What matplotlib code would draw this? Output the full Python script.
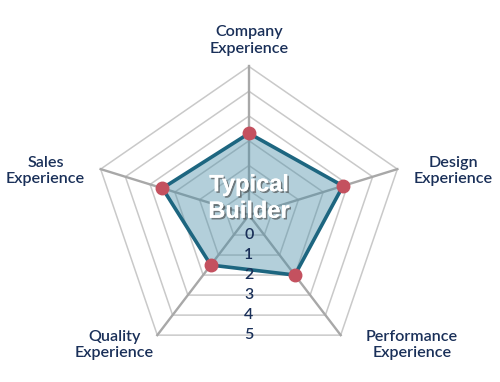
import matplotlib.pyplot as plt
import matplotlib.patheffects as pe
import numpy as np

categories = ['Company\nExperience', 'Design\nExperience', 'Performance\nExperience',
              'Quality\nExperience', 'Sales\nExperience']
values = [2.3, 2.8, 2.0, 1.5, 2.5]
levels = [0, 1, 2, 3, 4, 5]
r_min = -1          # value sitting at the centre of the web
center_title = 'Typical\nBuilder'

n = len(categories)
ang = np.arange(n) * 2 * np.pi / n          # clockwise, starting at top


def to_xy(r, a):
    rr = np.asarray(r, dtype=float) - r_min
    return rr * np.sin(a), rr * np.cos(a)


fig = plt.figure(figsize=(5, 3.82), dpi=100)
ax = fig.add_axes([0, 0, 1, 1])
# pixels per unit: 26 horizontally, 24.75 vertically; centre at (249, 215) px
ax.set_xlim(-249 / 26, 251 / 26)
ax.set_ylim(-167 / 24.75, 215 / 24.75)
ax.axis('off')

closed = np.append(ang, ang[0])

# pentagon rings
for lv in levels:
    x, y = to_xy([lv] * (n + 1), closed)
    ax.plot(x, y, color='#c9c9c9', lw=1.1, zorder=1)

# spokes
for a in ang:
    x, y = to_xy([r_min, levels[-1]], np.array([a, a]))
    ax.plot(x, y, color='#a8a8a8', lw=1.7, zorder=1)

# the series
x, y = to_xy(values + values[:1], closed)
ax.fill(x, y, color='#4a8ea8', alpha=0.42, lw=0, zorder=2)
ax.plot(x, y, color='#1d6680', lw=2.6, zorder=3)
ax.plot(x[:-1], y[:-1], 'o', ms=9, color='#c4515f', zorder=4)

# value labels along the bottom
for lv in levels:
    ax.text(0, -(lv - r_min) * np.cos(np.pi / 5), str(lv), ha='center', va='center',
            color='#1a3059', fontsize=11.5, fontweight='semibold', family='Lato', zorder=5)

# centre title
ax.text(0, 17 / 24.75, center_title, ha='center', va='center', color='white',
        fontsize=17, fontweight='bold', family='Liberation Sans', linespacing=1.2,
        zorder=6,
        path_effects=[pe.withSimplePatchShadow(offset=(1.2, -1.2), shadow_rgbFace='#404040',
                                               alpha=0.6), pe.Normal()])

# category labels
offsets = [(0, 26), (56, -2), (71, -10), (-43, -10), (-55, -2)]
for cat, a, off in zip(categories, ang, offsets):
    vx, vy = to_xy(levels[-1], a)
    ax.annotate(cat, xy=(vx, vy), xytext=off, textcoords='offset pixels',
                ha='center', va='center', color='#1a3059', fontsize=11.6,
                fontweight='semibold', family='Lato', linespacing=1.2)

fig.savefig('out.png', dpi=100)
